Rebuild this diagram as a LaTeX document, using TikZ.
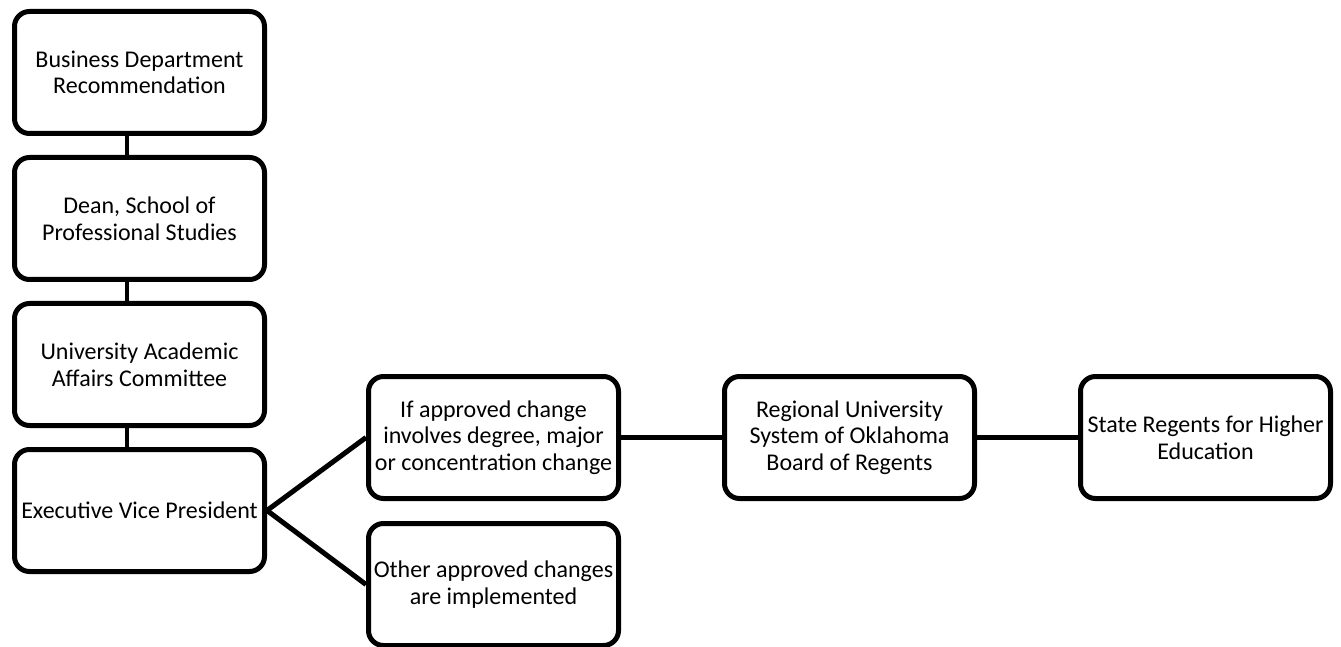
\documentclass[tikz,border=0pt]{standalone}
\usepackage{fontspec}
\setmainfont{Carlito}
\usetikzlibrary{positioning}

\tikzset{
  stage/.style={draw, rounded corners=7.5pt, line width=2.5pt,
    minimum width=125pt, minimum height=61pt, inner sep=1pt,
    align=center, font=\fontsize{12}{13.3}\selectfont},
  link/.style={line width=2.2pt},
}

\begin{document}
\begin{tikzpicture}
  \useasboundingbox (0,0) rectangle (670.5pt,-323.5pt);
  % left column
  \node[stage] (dept) at (69.75pt,-36.25pt) {Business Department\\Recommendation};
  \node[stage, below=9.5pt of dept] (dean) {Dean, School of\\Professional Studies};
  \node[stage, below=9.5pt of dean] (uaac) {University Academic\\Affairs Committee};
  \node[stage, below=9.5pt of uaac] (evp) {Executive Vice President};
  % branches
  \node[stage, right=49.5pt of evp, yshift=36.5pt] (degree) {If approved change\\involves degree, major\\or concentration change};
  \node[stage, below=10pt of degree] (other) {Other approved changes\\are implemented};
  \node[stage, right=50.5pt of degree] (rusoba) {Regional University\\System of Oklahoma\\Board of Regents};
  \node[stage, right=50.5pt of rusoba] (state) {State Regents for Higher\\Education};

  \draw[link] ([xshift=-6.25pt]dept.south) -- ([xshift=-6.25pt]dean.north);
  \draw[link] ([xshift=-6.25pt]dean.south) -- ([xshift=-6.25pt]uaac.north);
  \draw[link] ([xshift=-6.25pt]uaac.south) -- ([xshift=-6.25pt]evp.north);
  \draw[link, line width=2.5pt] (evp.east) -- (degree.west);
  \draw[link, line width=2.5pt] (evp.east) -- (other.west);
  \draw[link] (degree.east) -- (rusoba.west);
  \draw[link] (rusoba.east) -- (state.west);
\end{tikzpicture}
\end{document}
